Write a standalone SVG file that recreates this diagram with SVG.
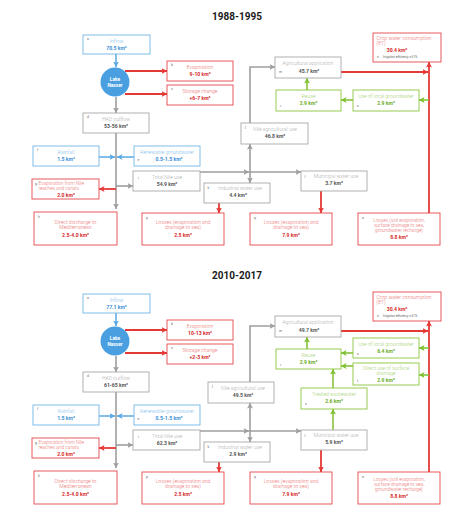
<svg xmlns="http://www.w3.org/2000/svg" width="474" height="518" viewBox="0 0 474 518">
<style>
.box{fill:#fff;stroke-width:0.9}
.blue{stroke:#72b6e6}
.red{stroke:#e5484d}
.grey{stroke:#a8a8a8}
.green{stroke:#8dc63f}
text{font-family:Roboto,"Liberation Sans",sans-serif;font-size:5.1px;text-anchor:middle}
.tb,.tr,.tg,.tn{font-weight:300}
.tb{fill:#86c0ec}.vb{fill:#3a8fd6;font-weight:bold}
.tr{fill:#ec7070}.vr{fill:#d42a2a;font-weight:bold}
.tg{fill:#b0b0b0}.vg{fill:#555;font-weight:bold}
.tn{fill:#a6d26e}.vn{fill:#6aab1f;font-weight:bold}
.lt{font-size:3.4px;fill:#666;text-anchor:start}
.st{text-anchor:start}
.sm{font-size:4.8px}
.title{font-size:10px;font-weight:bold;fill:#1a1a1a}
.lake{font-size:4.8px;font-weight:bold;fill:#fff}
#connectors path{fill:none}
.cr{stroke:#e53935;stroke-width:1.8}
.cg{stroke:#9e9e9e;stroke-width:1.6}
.cb{stroke:#5aa8e4;stroke-width:1.5}
.cn{stroke:#7fbf2e;stroke-width:1.5}
</style>
<defs>
<marker id="mr" markerUnits="userSpaceOnUse" markerWidth="7" markerHeight="7" refX="5.5" refY="3" orient="auto"><path d="M0,0 L5.5,3 L0,6 L1.3,3 z" fill="#e53935"/></marker>
<marker id="mg" markerUnits="userSpaceOnUse" markerWidth="7" markerHeight="7" refX="5.5" refY="3" orient="auto"><path d="M0,0 L5.5,3 L0,6 L1.3,3 z" fill="#9e9e9e"/></marker>
<marker id="mb" markerUnits="userSpaceOnUse" markerWidth="7" markerHeight="7" refX="5.5" refY="3" orient="auto"><path d="M0,0 L5.5,3 L0,6 L1.3,3 z" fill="#5aa8e4"/></marker>
<marker id="mn" markerUnits="userSpaceOnUse" markerWidth="7" markerHeight="7" refX="5.5" refY="3" orient="auto"><path d="M0,0 L5.5,3 L0,6 L1.3,3 z" fill="#7fbf2e"/></marker>
</defs>
<rect width="474" height="518" fill="#fff"/>

<text class="title" x="237" y="19.5">1988-1995</text>
<text class="title" x="237" y="279">2010-2017</text>

<g id="connectors">
<!-- top -->
<path class="cb" d="M116,54 V67" marker-end="url(#mb)"/>
<path class="cr" d="M125,71 H167" marker-end="url(#mr)"/>
<path class="cr" d="M125,94 H167" marker-end="url(#mr)"/>
<path class="cg" d="M116,97 V113" marker-end="url(#mg)"/>
<path class="cg" d="M116,133 V209" marker-end="url(#mg)"/>
<path class="cb" d="M99,157 H115" marker-end="url(#mb)"/>
<path class="cb" d="M134,157 H117" marker-end="url(#mb)"/>
<path class="cr" d="M116,189 H99" marker-end="url(#mr)"/>
<path class="cg" d="M116,186 H133" marker-end="url(#mg)"/>
<path class="cg" d="M200,172 H249" marker-end="url(#mg)"/>
<path class="cg" d="M249,172 H301" marker-end="url(#mg)"/>
<path class="cg" d="M250,172 V144" marker-end="url(#mg)"/>
<path class="cg" d="M250,172 V183" marker-end="url(#mg)"/>
<path class="cg" d="M250,123 V67 H275" marker-end="url(#mg)"/>
<path class="cr" d="M219,203 V213" marker-end="url(#mr)"/>
<path class="cr" d="M321,191 V213" marker-end="url(#mr)"/>
<path class="cr" d="M429,213 V62" marker-end="url(#mr)"/>
<path class="cr" d="M341,72 H428" marker-end="url(#mr)"/>
<path class="cn" d="M307,90 V78" marker-end="url(#mn)"/>
<path class="cn" d="M353,100 H341" marker-end="url(#mn)"/>
<path class="cn" d="M429,100 H419" marker-end="url(#mn)"/>
<!-- bottom -->
<path class="cb" d="M116,313 V326" marker-end="url(#mb)"/>
<path class="cr" d="M125,330 H167" marker-end="url(#mr)"/>
<path class="cr" d="M125,353 H167" marker-end="url(#mr)"/>
<path class="cg" d="M116,356 V372" marker-end="url(#mg)"/>
<path class="cg" d="M116,392 V468" marker-end="url(#mg)"/>
<path class="cb" d="M99,416 H115" marker-end="url(#mb)"/>
<path class="cb" d="M134,416 H117" marker-end="url(#mb)"/>
<path class="cr" d="M116,448 H99" marker-end="url(#mr)"/>
<path class="cg" d="M116,445 H133" marker-end="url(#mg)"/>
<path class="cg" d="M200,431 H249" marker-end="url(#mg)"/>
<path class="cg" d="M249,431 H301" marker-end="url(#mg)"/>
<path class="cg" d="M250,431 V403" marker-end="url(#mg)"/>
<path class="cg" d="M250,431 V442" marker-end="url(#mg)"/>
<path class="cg" d="M250,382 V326 H275" marker-end="url(#mg)"/>
<path class="cr" d="M219,462 V472" marker-end="url(#mr)"/>
<path class="cr" d="M321,450 V472" marker-end="url(#mr)"/>
<path class="cr" d="M429,472 V321" marker-end="url(#mr)"/>
<path class="cr" d="M341,331 H428" marker-end="url(#mr)"/>
<path class="cn" d="M307,349 V337" marker-end="url(#mn)"/>
<path class="cn" d="M353,353 H341" marker-end="url(#mn)"/>
<path class="cn" d="M353,366 H341" marker-end="url(#mn)"/>
<path class="cn" d="M429,348 H419" marker-end="url(#mn)"/>
<path class="cn" d="M429,375 H419" marker-end="url(#mn)"/>
<path class="cn" d="M333,388 V369" marker-end="url(#mn)"/>
<path class="cn" d="M333,430 V409" marker-end="url(#mn)"/>
</g>

<!-- ===== TOP 1988-1995 ===== -->
<g id="t-inflow"><rect class="box blue" x="83" y="35" width="67" height="19"/><text class="lt" x="87" y="40">a</text><text class="tb" x="116.5" y="43">Inflow</text><text class="vb" x="116.5" y="50">70.5 km³</text></g>
<g id="t-lake"><circle cx="115" cy="82" r="14.5" fill="#4a9fe0"/><text class="lake" x="115" y="80.5">Lake</text><text class="lake" x="115" y="86.5">Nasser</text></g>
<g id="t-evap"><rect class="box red" x="167" y="61" width="66" height="20"/><text class="lt" x="171" y="66">b</text><text class="tr" x="200" y="69">Evaporation</text><text class="vr" x="200" y="76">9-10 km³</text></g>
<g id="t-storage"><rect class="box red" x="167" y="85" width="66" height="20"/><text class="lt" x="171" y="90">c</text><text class="tr" x="200" y="93">Storage change</text><text class="vr" x="200" y="100">+6-7 km³</text></g>
<g id="t-had"><rect class="box grey" x="83" y="113" width="66" height="20"/><text class="lt" x="87" y="118">d</text><text class="tg" x="116" y="121">HAD outflow</text><text class="vg" x="116" y="128">53-56 km³</text></g>
<g id="t-rain"><rect class="box blue" x="33" y="146" width="66" height="20"/><text class="lt" x="37" y="151">f</text><text class="tb" x="66" y="154">Rainfall</text><text class="vb" x="66" y="161">1.5 km³</text></g>
<g id="t-rgw"><rect class="box blue" x="134" y="146" width="66" height="20"/><text class="tb" x="167" y="154">Renewable groundwater</text><text class="lt" x="137.5" y="161">e</text><text class="vb" x="169" y="161">0.5-1.5 km³</text></g>
<g id="t-evnile"><rect class="box red" x="32" y="179" width="67" height="20"/><text class="lt" x="35" y="184.5">g</text><text class="tr st sm" x="38.5" y="184.5">Evaporation from Nile</text><text class="tr st sm" x="38.5" y="189.5">reaches and canals</text><text class="vr" x="66" y="197">2.0 km³</text></g>
<g id="t-total"><rect class="box grey" x="133" y="171" width="67" height="20"/><text class="lt" x="138" y="179">i</text><text class="tg" x="167" y="179">Total Nile use</text><text class="vg" x="167" y="186">54.9 km³</text></g>
<g id="t-nileag"><rect class="box grey" x="241" y="123" width="67" height="21"/><text class="lt" x="245" y="128">j</text><text class="tg" x="275" y="131">Nile agricultural use</text><text class="vg" x="275" y="138">46.8 km³</text></g>
<g id="t-ind"><rect class="box grey" x="204" y="183" width="66" height="20"/><text class="lt" x="207.5" y="189">k</text><text class="tg" x="240" y="190">Industrial water use</text><text class="vg" x="238" y="197">4.4 km³</text></g>
<g id="t-mun"><rect class="box grey" x="301" y="171" width="66" height="20"/><text class="lt" x="304.5" y="177.5">l</text><text class="tg" x="336" y="178">Municipal water use</text><text class="vg" x="334" y="185">3.7 km³</text></g>
<g id="t-dis"><rect class="box red" x="34" y="212" width="83" height="33"/><text class="lt" x="38" y="218">h</text><text class="tr" x="75.5" y="223.5">Direct discharge to</text><text class="tr" x="75.5" y="229">Mediterranean</text><text class="vr" x="75.5" y="236.5">2.5-4.0 km³</text></g>
<g id="t-lossp"><rect class="box red" x="142" y="213" width="82" height="32"/><text class="lt" x="146" y="219">p</text><text class="tr" x="183" y="223.5">Losses (evaporation and</text><text class="tr" x="183" y="229">drainage to sea)</text><text class="vr" x="183" y="236.5">2.5 km³</text></g>
<g id="t-lossq"><rect class="box red" x="250" y="213" width="82" height="32"/><text class="lt" x="254" y="219">q</text><text class="tr" x="291" y="223.5">Losses (evaporation and</text><text class="tr" x="291" y="229">drainage to sea)</text><text class="vr" x="291" y="236.5">7.9 km³</text></g>
<g id="t-losso"><rect class="box red" x="358" y="213" width="82" height="32"/><text class="lt" x="362" y="219">o</text><text class="tr sm" x="399" y="221.5">Losses (soil evaporation,</text><text class="tr sm" x="399" y="226.5">surface drainage to sea,</text><text class="tr sm" x="399" y="231.5">groundwater recharge)</text><text class="vr" x="399" y="238.5">8.8 km³</text></g>
<g id="t-agapp"><rect class="box grey" x="275" y="57" width="66" height="21"/><text class="tg" x="308" y="65">Agricultural application</text><text class="lt" x="279" y="73">m</text><text class="vg" x="309" y="73">45.7 km³</text></g>
<g id="t-crop"><rect class="box red" x="373" y="33" width="68" height="29"/><text class="tr st" x="376.5" y="39.5">Crop water consumption</text><text class="tr st" x="376.5" y="45">(ET)</text><text class="vr" x="397" y="51.5">30.4 km³</text><text class="lt" x="377" y="58">n</text><text class="lt" x="383" y="58" style="font-size:3px">Irrigation efficiency = 61%</text></g>
<g id="t-reuse"><rect class="box green" x="276" y="90" width="65" height="21"/><text class="tn" x="308.5" y="97.5">Reuse</text><text class="lt" x="280" y="107">r</text><text class="vn" x="308.5" y="104.5">2.9 km³</text></g>
<g id="t-lgw"><rect class="box green" x="353" y="90" width="66" height="21"/><text class="tn" x="386" y="97.5">Use of local groundwater</text><text class="lt" x="357" y="107">s</text><text class="vn" x="386" y="104.5">2.9 km³</text></g>

<!-- ===== BOTTOM 2010-2017 ===== -->
<g id="b-inflow"><rect class="box blue" x="83" y="294" width="67" height="19"/><text class="lt" x="87" y="299">a</text><text class="tb" x="116.5" y="302">Inflow</text><text class="vb" x="116.5" y="309">77.1 km³</text></g>
<g id="b-lake"><circle cx="115" cy="341" r="14.5" fill="#4a9fe0"/><text class="lake" x="115" y="339.5">Lake</text><text class="lake" x="115" y="345.5">Nasser</text></g>
<g id="b-evap"><rect class="box red" x="167" y="320" width="66" height="20"/><text class="lt" x="171" y="325">b</text><text class="tr" x="200" y="328">Evaporation</text><text class="vr" x="200" y="335">10-13 km³</text></g>
<g id="b-storage"><rect class="box red" x="167" y="344" width="66" height="20"/><text class="lt" x="171" y="349">c</text><text class="tr" x="200" y="352">Storage change</text><text class="vr" x="200" y="359">+2-3 km³</text></g>
<g id="b-had"><rect class="box grey" x="83" y="372" width="66" height="20"/><text class="lt" x="87" y="377">d</text><text class="tg" x="116" y="380">HAD outflow</text><text class="vg" x="116" y="387">61-65 km³</text></g>
<g id="b-rain"><rect class="box blue" x="33" y="405" width="66" height="20"/><text class="lt" x="37" y="410">f</text><text class="tb" x="66" y="413">Rainfall</text><text class="vb" x="66" y="420">1.5 km³</text></g>
<g id="b-rgw"><rect class="box blue" x="134" y="405" width="66" height="20"/><text class="tb" x="167" y="413">Renewable groundwater</text><text class="lt" x="137.5" y="420">e</text><text class="vb" x="169" y="420">0.5-1.5 km³</text></g>
<g id="b-evnile"><rect class="box red" x="32" y="438" width="67" height="20"/><text class="lt" x="35" y="443.5">g</text><text class="tr st sm" x="38.5" y="443.5">Evaporation from Nile</text><text class="tr st sm" x="38.5" y="448.5">reaches and canals</text><text class="vr" x="66" y="456">2.0 km³</text></g>
<g id="b-total"><rect class="box grey" x="133" y="430" width="67" height="20"/><text class="lt" x="138" y="438">i</text><text class="tg" x="167" y="438">Total Nile use</text><text class="vg" x="167" y="445">62.3 km³</text></g>
<g id="b-nileag"><rect class="box grey" x="208" y="382" width="66" height="21"/><text class="lt" x="212" y="387">j</text><text class="tg" x="243" y="390">Nile agricultural use</text><text class="vg" x="243" y="397">49.5 km³</text></g>
<g id="b-ind"><rect class="box grey" x="204" y="442" width="66" height="20"/><text class="lt" x="207.5" y="448">k</text><text class="tg" x="240" y="449">Industrial water use</text><text class="vg" x="238" y="456">2.9 km³</text></g>
<g id="b-mun"><rect class="box grey" x="301" y="430" width="66" height="20"/><text class="lt" x="304.5" y="436.5">l</text><text class="tg" x="336" y="437">Municipal water use</text><text class="vg" x="334" y="444">5.9 km³</text></g>
<g id="b-dis"><rect class="box red" x="34" y="471" width="83" height="33"/><text class="lt" x="38" y="477">h</text><text class="tr" x="75.5" y="482.5">Direct discharge to</text><text class="tr" x="75.5" y="488">Mediterranean</text><text class="vr" x="75.5" y="495.5">2.5-4.0 km³</text></g>
<g id="b-lossp"><rect class="box red" x="142" y="472" width="82" height="32"/><text class="lt" x="146" y="478">p</text><text class="tr" x="183" y="482.5">Losses (evaporation and</text><text class="tr" x="183" y="488">drainage to sea)</text><text class="vr" x="183" y="495.5">2.5 km³</text></g>
<g id="b-lossq"><rect class="box red" x="250" y="472" width="82" height="32"/><text class="lt" x="254" y="478">q</text><text class="tr" x="291" y="482.5">Losses (evaporation and</text><text class="tr" x="291" y="488">drainage to sea)</text><text class="vr" x="291" y="495.5">7.9 km³</text></g>
<g id="b-losso"><rect class="box red" x="358" y="472" width="82" height="32"/><text class="lt" x="362" y="478">o</text><text class="tr sm" x="399" y="480.5">Losses (soil evaporation,</text><text class="tr sm" x="399" y="485.5">surface drainage to sea,</text><text class="tr sm" x="399" y="490.5">groundwater recharge)</text><text class="vr" x="399" y="497.5">8.8 km³</text></g>
<g id="b-agapp"><rect class="box grey" x="275" y="316" width="66" height="21"/><text class="tg" x="308" y="324">Agricultural application</text><text class="lt" x="279" y="332">m</text><text class="vg" x="309" y="332">49.7 km³</text></g>
<g id="b-crop"><rect class="box red" x="373" y="292" width="68" height="29"/><text class="tr st" x="376.5" y="298.5">Crop water consumption</text><text class="tr st" x="376.5" y="304">(ET)</text><text class="vr" x="397" y="310.5">30.4 km³</text><text class="lt" x="377" y="317">n</text><text class="lt" x="383" y="317" style="font-size:3px">Irrigation efficiency = 61%</text></g>
<g id="b-reuse"><rect class="box green" x="276" y="349" width="65" height="20"/><text class="tn" x="308.5" y="356.5">Reuse</text><text class="lt" x="280" y="366">r</text><text class="vn" x="308.5" y="363.5">2.9 km³</text></g>
<g id="b-lgw"><rect class="box green" x="353" y="338" width="66" height="20"/><text class="tn" x="386" y="345.5">Use of local groundwater</text><text class="lt" x="357" y="355">s</text><text class="vn" x="386" y="352.5">6.4 km³</text></g>
<g id="b-dsd"><rect class="box green" x="353" y="363" width="66" height="22"/><text class="tn" x="386" y="369.5">Direct use of surface</text><text class="tn" x="386" y="374.5">drainage</text><text class="lt" x="357" y="382">t</text><text class="vn" x="386" y="381.5">2.9 km³</text></g>
<g id="b-tww"><rect class="box green" x="301" y="388" width="66" height="21"/><text class="tn" x="334" y="395.5">Treated wastewater</text><text class="lt" x="305" y="405">u</text><text class="vn" x="334" y="402.5">2.6 km³</text></g>
</svg>
